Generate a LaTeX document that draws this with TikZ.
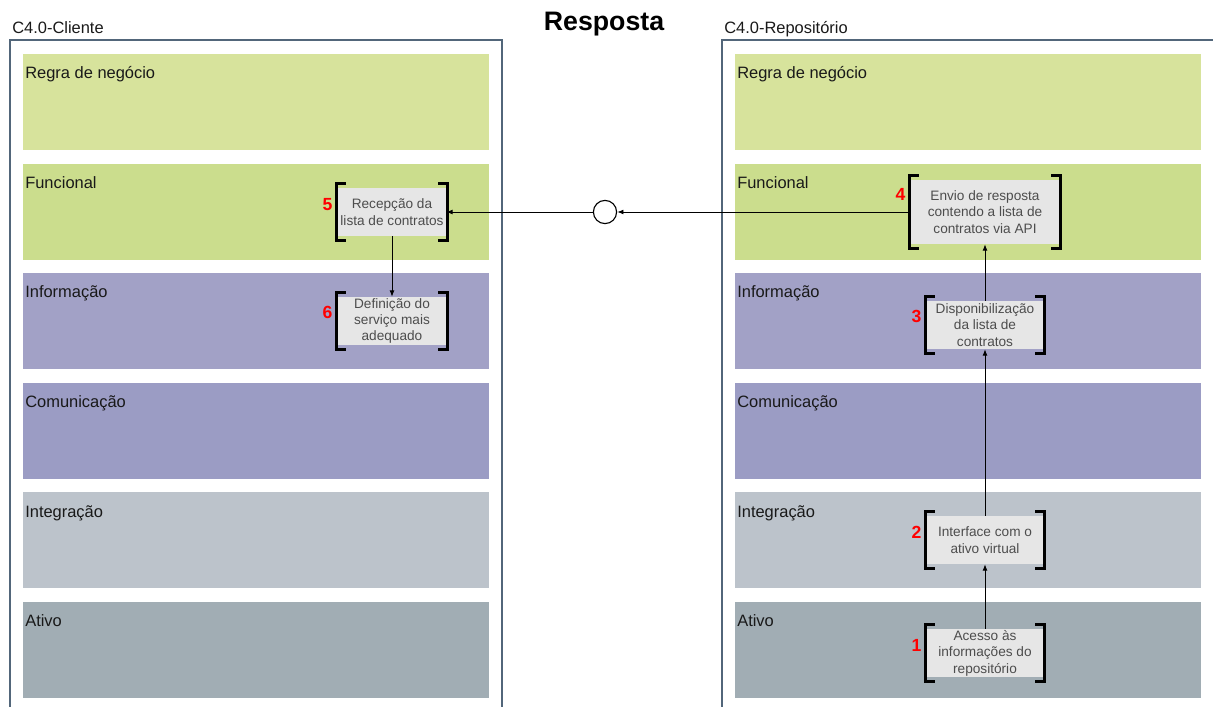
\documentclass[tikz,border=0pt]{standalone}
\usepackage{fontspec}
\setmainfont{Liberation Sans}
\usetikzlibrary{arrows.meta, calc}

\definecolor{frameline}{HTML}{52667A}
\definecolor{cRegra}{HTML}{D7E39C}
\definecolor{cFunc}{HTML}{CBDD8D}
\definecolor{cInfo}{HTML}{A2A1C6}
\definecolor{cCom}{HTML}{9B9CC4}
\definecolor{cInteg}{HTML}{BCC3CB}
\definecolor{cAtivo}{HTML}{A1ADB4}
\definecolor{boxfill}{HTML}{E6E6E6}
\definecolor{boxtext}{HTML}{4D4D4D}

% square brackets left and right of a step box
\newcommand{\brackets}[1]{%
    \draw[bracket] ([xshift=5.6pt,yshift=3.2pt]#1.north west) -- ([xshift=-1pt,yshift=3.2pt]#1.north west)
        -- ([xshift=-1pt,yshift=-3.2pt]#1.south west) -- ([xshift=5.6pt,yshift=-3.2pt]#1.south west);
    \draw[bracket] ([xshift=-5.6pt,yshift=3.2pt]#1.north east) -- ([xshift=1pt,yshift=3.2pt]#1.north east)
        -- ([xshift=1pt,yshift=-3.2pt]#1.south east) -- ([xshift=-5.6pt,yshift=-3.2pt]#1.south east);
}

\begin{document}
\begin{tikzpicture}[x=0.025cm, y=-0.025cm,
    lanelbl/.style={anchor=base west, inner sep=0pt, text=black!90, font=\fontsize{11.7}{13}\selectfont},
    stepbox/.style={fill=boxfill, text=boxtext, align=center, inner sep=0pt, font=\fontsize{9.7}{11.7}\selectfont},
    numlbl/.style={anchor=east, inner sep=0pt, text=red, font=\bfseries\fontsize{12.5}{14}\selectfont},
    bracket/.style={line width=1.9pt},
    flow/.style={-{Latex[length=4.5pt,width=3.5pt]}, line width=0.7pt}]
    \useasboundingbox (0,0) rectangle (1213,706);
    \clip (0,0) rectangle (1213,706);

    \node[anchor=base, font=\bfseries\fontsize{19}{22}\selectfont] (title) at (604,30) {Resposta};

    % Client side
    \begin{scope}
        \draw[frameline, line width=0.75pt] (10,40) rectangle (502,720);
        \node[lanelbl] (cliente) at (12,33.3) {C4.0-Cliente};
        \foreach \lname/\lcol [count=\i] in {Regra de negócio/cRegra, Funcional/cFunc, Informação/cInfo,
                Comunicação/cCom, Integração/cInteg, Ativo/cAtivo} {
            \fill[\lcol] (23,{54+109.6*(\i-1)}) rectangle (489,{150+109.6*(\i-1)});
            \node[lanelbl] (cl\i) at (25,{78.7+109.6*(\i-1)}) {\lname};
        }
    \end{scope}

    % Repository side
    \begin{scope}[shift={(712,0)}]
        \draw[frameline, line width=0.75pt] (10,40) rectangle (502,720);
        \node[lanelbl] (repo) at (12,33.3) {C4.0-Repositório};
        \foreach \lname/\lcol [count=\i] in {Regra de negócio/cRegra, Funcional/cFunc, Informação/cInfo,
                Comunicação/cCom, Integração/cInteg, Ativo/cAtivo} {
            \fill[\lcol] (23,{54+109.6*(\i-1)}) rectangle (489,{150+109.6*(\i-1)});
            \node[lanelbl] (rl\i) at (25,{78.7+109.6*(\i-1)}) {\lname};
        }
    \end{scope}

    % --- steps ---
    \node[stepbox, minimum width=2.9cm, minimum height=1.2cm] (acc) at (985,653) {Acesso às\\informações do\\repositório};
    \node[stepbox, minimum width=2.9cm, minimum height=1.2cm] (intf) at (985,540) {Interface com o\\ativo virtual};
    \node[stepbox, minimum width=2.9cm, minimum height=1.2cm] (disp) at (985,325) {Disponibilização\\da lista de\\contratos};
    \node[stepbox, minimum width=3.7cm, minimum height=1.6cm] (env) at (985,212) {Envio de resposta\\contendo a lista de\\contratos via API};
    \node[stepbox, minimum width=2.7cm, minimum height=1.2cm] (rec) at (392,212) {Recepção da\\lista de contratos};
    \node[stepbox, minimum width=2.7cm, minimum height=1.2cm] (def) at (392,321) {Definição do\\serviço mais\\adequado};
    \node[circle, draw, fill=white, line width=0.8pt, minimum size=0.58cm, inner sep=0pt] (sig) at (605,212) {};

    \foreach \b in {acc, intf, disp, env, rec, def} {\brackets{\b}}

    \node[numlbl] (n1) at ([xshift=-3.5pt,yshift=-11.8pt]acc.north west) {1};
    \node[numlbl] (n2) at ([xshift=-3.5pt,yshift=-11.8pt]intf.north west) {2};
    \node[numlbl] (n3) at ([xshift=-3.5pt,yshift=-11.5pt]disp.north west) {3};
    \node[numlbl] (n4) at ([xshift=-3.5pt,yshift=-10.7pt]env.north west) {4};
    \node[numlbl] (n5) at ([xshift=-3.5pt,yshift=-12pt]rec.north west) {5};
    \node[numlbl] (n6) at ([xshift=-3.5pt,yshift=-11.5pt]def.north west) {6};

    % --- flow ---
    \draw[flow] (acc) -- (intf);
    \draw[flow] (intf) -- (disp);
    \draw[flow] (disp) -- (env);
    \draw[flow] (env) -- (sig);
    \draw[flow] (sig) -- (rec);
    \draw[flow] (rec) -- (def);
\end{tikzpicture}
\end{document}
